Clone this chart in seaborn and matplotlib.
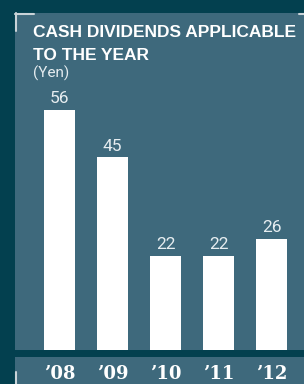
import matplotlib
matplotlib.use("Agg")
import matplotlib.pyplot as plt
import seaborn as sns
import pandas as pd
from matplotlib.patches import Rectangle
from matplotlib.lines import Line2D

years = ["\u201908", "\u201909", "\u201910", "\u201911", "\u201912"]
dividends = [56, 45, 22, 22, 26]

DARK = "#03404f"
PANEL = "#3e697c"
LIGHT = "#e6edf0"
W, H = 304, 384
NARROW = ["Liberation Sans Narrow", "Roboto", "DejaVu Sans"]

sns.set_theme(style="white")
plt.rcParams["font.family"] = NARROW

fig = plt.figure(figsize=(W / 100, H / 100), dpi=100, facecolor=DARK)

# bottom strip for the year labels
fig.patches.append(Rectangle((15 / W, 0), 1, (384 - 357) / H, transform=fig.transFigure,
                             facecolor=PANEL, edgecolor="none", zorder=-5))

ax = fig.add_axes([15 / W, (384 - 350) / H, 1 - 15 / W, (350 - 13) / H])
ax.set_facecolor(PANEL)

df = pd.DataFrame({"year": years, "dividend": dividends})
sns.barplot(data=df, x="year", y="dividend", color="white", width=0.585,
            saturation=1, ax=ax)
for p in ax.patches:
    p.set_facecolor("white")
    p.set_edgecolor("none")

ax.bar_label(ax.containers[0], fmt="%d", padding=2.5, color=LIGHT, fontsize=12.5,
             family=NARROW)

ax.set_xlim(-0.84, 4.613)
ax.set_ylim(0, 78.6)
ax.set_yticks([])
ax.set_xlabel("")
ax.set_ylabel("")
ax.tick_params(axis="x", length=0, pad=11)
ax.set_xticks(range(len(years)))
ax.set_xticklabels(years, family="DejaVu Serif", fontweight="bold", fontsize=13,
                   color="white")
for s in ax.spines.values():
    s.set_visible(False)

title_font = dict(color="white", fontsize=13, fontweight="bold", va="baseline",
                  ha="left", family=["Liberation Sans", "DejaVu Sans"])
t1 = fig.text(33 / W, 1 - 37 / H, "CASH DIVIDENDS APPLICABLE", **title_font)
t2 = fig.text(33 / W, 1 - 60 / H, "TO THE YEAR", **title_font)
fig.text(33 / W, 1 - 77.5 / H, "(Yen)", color=LIGHT, fontsize=11, va="baseline",
         ha="left", family=NARROW)

# shrink the title so the first line spans x=33..297 px
renderer = fig.canvas.get_renderer()
width = t1.get_window_extent(renderer).width
size = 13 * 264 / width
t1.set_fontsize(size)
t2.set_fontsize(size)

# corner marks
mark = dict(color="#c9d3d8", linewidth=1.5, transform=fig.transFigure)
fig.lines.append(Line2D([15 / W, 34 / W], [1 - 13.5 / H, 1 - 13.5 / H], **mark))
fig.lines.append(Line2D([15.5 / W, 15.5 / W], [1 - 13 / H, 1 - 31 / H], **mark))
fig.lines.append(Line2D([299 / W, 1], [1 - 13.5 / H, 1 - 13.5 / H], **mark))
fig.lines.append(Line2D([15.5 / W, 15.5 / W], [1 - 372 / H, 0], **mark))

fig.savefig("out.png", dpi=100, facecolor=DARK)
